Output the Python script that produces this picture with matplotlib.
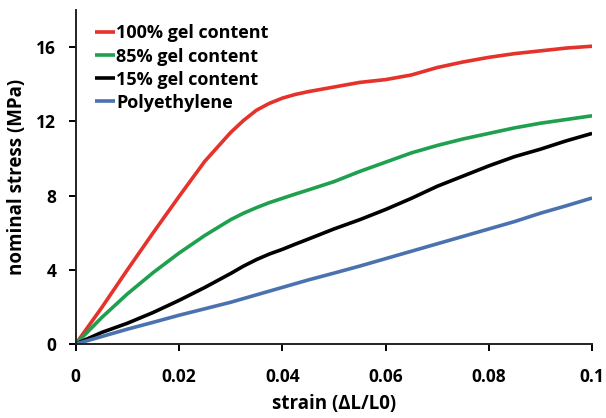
import matplotlib.pyplot as plt

# strain values (dL/L0) and nominal stress (MPa)
strain = [0, 0.005, 0.01, 0.015, 0.02, 0.025, 0.03, 0.0325, 0.035, 0.0375, 0.04,
          0.0425, 0.045, 0.05, 0.055, 0.06, 0.065, 0.07, 0.075, 0.08, 0.085,
          0.09, 0.095, 0.1]
gel_100 = [0, 1.95, 4.0, 6.0, 7.95, 9.85, 11.4, 12.05, 12.6, 12.97, 13.25,
           13.45, 13.6, 13.85, 14.1, 14.25, 14.5, 14.9, 15.2, 15.45, 15.65,
           15.8, 15.95, 16.05]
gel_85 = [0, 1.42, 2.7, 3.85, 4.9, 5.85, 6.7, 7.05, 7.35, 7.62, 7.85,
          8.08, 8.3, 8.75, 9.3, 9.8, 10.3, 10.7, 11.05, 11.35, 11.65,
          11.9, 12.1, 12.3]
gel_15 = [0, 0.62, 1.12, 1.7, 2.35, 3.05, 3.8, 4.2, 4.55, 4.85, 5.1,
          5.38, 5.65, 6.2, 6.7, 7.25, 7.85, 8.5, 9.05, 9.6, 10.1,
          10.5, 10.95, 11.35]
polyethylene = [0, 0.4, 0.8, 1.17, 1.55, 1.9, 2.25, 2.45, 2.65, 2.85, 3.05,
                3.25, 3.45, 3.82, 4.2, 4.6, 5.0, 5.4, 5.8, 6.2, 6.6,
                7.05, 7.45, 7.87]

series = [
    ('100% gel content', gel_100, '#e5322b'),
    ('85% gel content', gel_85, '#1ea04f'),
    ('15% gel content', gel_15, '#000000'),
    ('Polyethylene', polyethylene, '#4a72b0'),
]

plt.rcParams['font.family'] = ['Open Sans', 'DejaVu Sans']
plt.rcParams['font.weight'] = 'bold'

fig = plt.figure(figsize=(6.06, 4.18), dpi=100)
ax = fig.add_axes([0.125, 0.177, 0.852, 0.799])

for name, vals, col in series:
    ax.plot(strain, vals, color=col, lw=2.6, label=name, solid_capstyle='butt')

ax.set_xlim(0, 0.1)
ax.set_ylim(0, 18)
ax.set_xticks([0, 0.02, 0.04, 0.06, 0.08, 0.1])
ax.set_xticklabels(['0', '0.02', '0.04', '0.06', '0.08', '0.1'])
ax.set_yticks([0, 4, 8, 12, 16])

for s in ['top', 'right']:
    ax.spines[s].set_visible(False)
for s in ['left', 'bottom']:
    ax.spines[s].set_linewidth(1.4)
    ax.spines[s].set_color('#222222')

ax.tick_params(axis='x', direction='out', length=5, width=1.4, pad=12, labelsize=12.5)
ax.tick_params(axis='y', direction='out', length=5, width=1.4, pad=9, labelsize=12.5)

ax.set_xlabel('strain (\u0394L/L0)', fontsize=13.5, fontweight='bold', labelpad=6)
ax.set_ylabel('nominal stress (MPa)', fontsize=13.5, fontweight='bold', labelpad=7)

leg = ax.legend(loc='upper left', bbox_to_anchor=(0.01, 1.0), frameon=False,
                handlelength=1.1, handletextpad=0.05, labelspacing=0.28,
                borderpad=0.3, prop={'size': 13, 'weight': 'bold'})

fig.savefig('out.png', dpi=100)
